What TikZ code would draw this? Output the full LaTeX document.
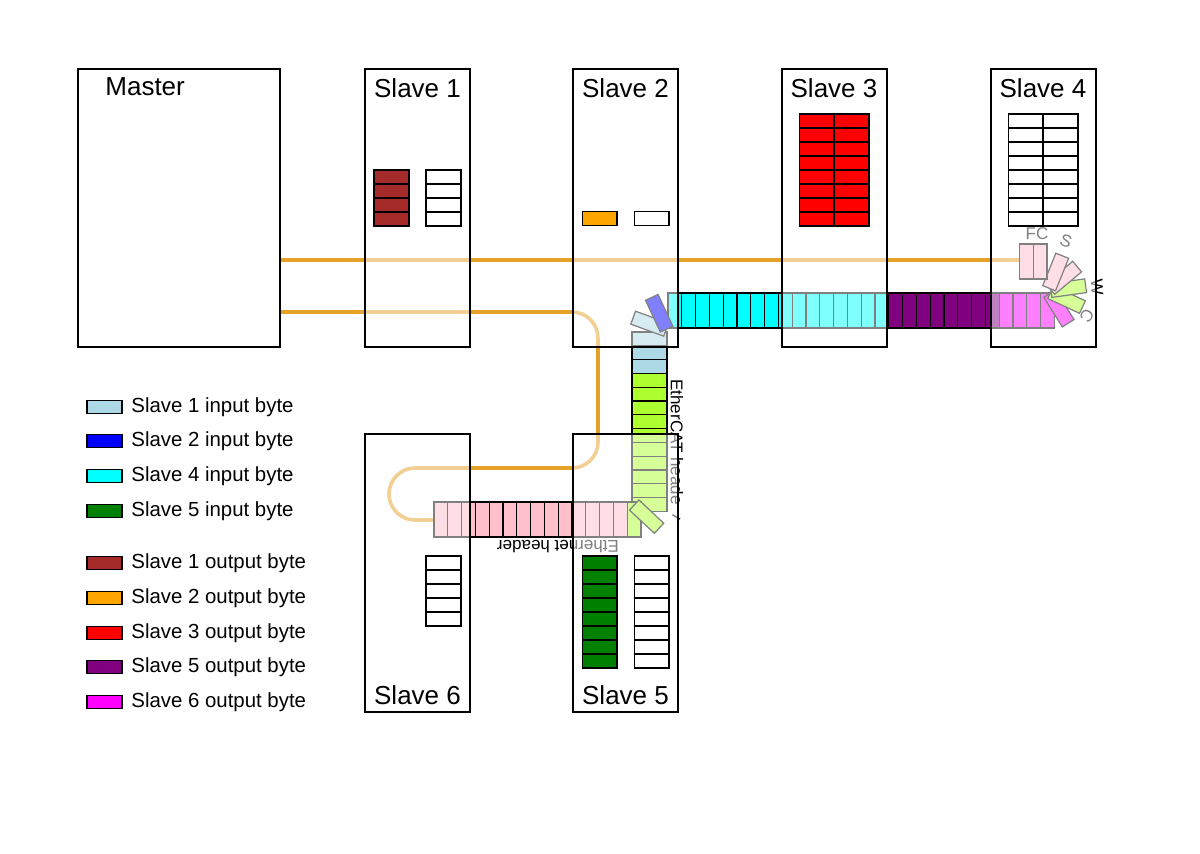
\documentclass[tikz,border=0pt]{standalone}
\usepackage{fontspec}
\setmainfont{Liberation Sans}
\usetikzlibrary{calc}
\pgfdeclarelayer{boxes}
\pgfdeclarelayer{top}
\pgfsetlayers{main,boxes,top}
\definecolor{cLB}{RGB}{173,216,230}
\definecolor{cBlue}{RGB}{0,0,255}
\definecolor{cCyan}{RGB}{0,255,255}
\definecolor{cGreen}{RGB}{0,128,0}
\definecolor{cBrown}{RGB}{165,42,42}
\definecolor{cOrange}{RGB}{255,165,0}
\definecolor{cRed}{RGB}{255,0,0}
\definecolor{cPurple}{RGB}{128,0,128}
\definecolor{cMagenta}{RGB}{255,0,255}
\definecolor{cPink}{RGB}{255,192,203}
\definecolor{cGY}{RGB}{173,255,47}
\definecolor{cableorange}{RGB}{230,162,40}
\newcommand{\rotbyte}[6]{% px, py, theta, r0, r1, colour
  \filldraw[byte, fill=#6]
    ({#1+#4*cos(#3)+6.9*sin(#3)},{#2+#4*sin(#3)-6.9*cos(#3)}) --
    ({#1+#5*cos(#3)+6.9*sin(#3)},{#2+#5*sin(#3)-6.9*cos(#3)}) --
    ({#1+#5*cos(#3)-6.9*sin(#3)},{#2+#5*sin(#3)+6.9*cos(#3)}) --
    ({#1+#4*cos(#3)-6.9*sin(#3)},{#2+#4*sin(#3)+6.9*cos(#3)}) -- cycle;}
\newcommand{\memtab}[5]{% x0, y0, ncols, nrows, fill
  \foreach \cc in {1,...,#3}{\foreach \rr in {1,...,#4}{
    \filldraw[tbl, fill=#5] ({#1+(\cc-1)*34.7},{#2+(\rr-1)*14}) rectangle ++(34.7,14);}}}
\tikzset{
  box/.style={draw=black, line width=1pt, fill=white, fill opacity=0.5, text opacity=1, inner sep=0pt},
  slavebox/.style={box, minimum width=52.5pt, minimum height=139pt},
  byte/.style={draw=black, line width=0.6pt},
  tbl/.style={draw=black, line width=0.8pt},
  cable/.style={draw=cableorange, line width=1.8pt},
  big/.style={font=\fontsize{13}{15}\selectfont, inner sep=0pt},
  small/.style={font=\fontsize{8.5}{10}\selectfont, inner sep=0pt},
  leg/.style={font=\fontsize{10.2}{12}\selectfont, inner sep=0pt},
  swatch/.style={draw=black, line width=0.8pt, minimum width=17.5pt, minimum height=6.5pt, inner sep=0pt}
}
\begin{document}
\begin{tikzpicture}[x=0.5pt,y=-0.5pt]
\useasboundingbox (0,0) rectangle (1200,853);
\fill[white] (0,0) rectangle (1200,853);
% boxes (semi-transparent white over frame and cables)
\begin{pgfonlayer}{boxes}
\node[box, minimum width=101pt, minimum height=139pt] (master) at (179,208) {};
\node[slavebox] (s1) at (417.5,208) {};
\node[slavebox] (s2) at (625.5,208) {};
\node[slavebox] (s3) at (834,208) {};
\node[slavebox] (s4) at (1043,208) {};
\node[slavebox] (s6) at (417.5,573) {};
\node[slavebox] (s5) at (625.5,573) {};
\end{pgfonlayer}
% cables
\coordinate (c1end) at (1019,260);
\coordinate (c2y) at (0,312);
\coordinate (strandL) at (434,520);
\draw[cable] (master.east |- c1end) -- (c1end);
\draw[cable, rounded corners=13pt] (master.east |- c2y) -- (598,312) -- (598,468) -- (389,468) -- (389,520) -- (strandL);
% frame: top strand
\def\bw{13.8}
\foreach \i in {0,...,15} \filldraw[byte, fill=cCyan] ({668+\i*\bw},293) rectangle ++(\bw,35);
\foreach \i in {16,...,23} \filldraw[byte, fill=cPurple] ({668+\i*\bw},293) rectangle ++(\bw,35);
\foreach \i in {24,...,27} \filldraw[byte, fill=cMagenta] ({668+\i*\bw},293) rectangle ++(\bw,35);
% vertical strand
\foreach \j in {0,...,2} \filldraw[byte, fill=cLB] (632,{332+\j*\bw}) rectangle ++(35,\bw);
\foreach \j in {3,...,12} \filldraw[byte, fill=cGY] (632,{332+\j*\bw}) rectangle ++(35,\bw);
% bottom strand
\foreach \i in {0,...,13} \filldraw[byte, fill=cPink] ({434+\i*\bw},502) rectangle ++(\bw,35);
\filldraw[byte, fill=cGY] ({434+14*\bw},502) rectangle ++(\bw,35);
% corners
\rotbyte{632}{503}{43}{3}{37}{cGY}
\rotbyte{667}{330}{200}{1}{36}{cLB}
\rotbyte{667}{330}{245}{1}{36}{cBlue}
% fan at slave 4
\rotbyte{1048}{291}{58}{3}{38}{cMagenta}
\rotbyte{1048}{291}{25}{3}{38}{cGY}
\rotbyte{1048}{291}{-8}{3}{38}{cGY}
\rotbyte{1048}{291}{-40}{3}{38}{cPink}
\rotbyte{1048}{291}{-68}{3}{38}{cPink}
\foreach \i in {0,1} \filldraw[byte, fill=cPink] ({1019.4+\i*\bw},244) rectangle ++(\bw,35);
% frame texts
\node[small, rotate=-90, anchor=west] (ecath) at (677,379) {EtherCAT heade};
\node[small, rotate=-120] (ecatr) at (676,518) {r};
\node[small, rotate=180] (ethh) at (558,547) {Ethernet header};
\node[small] (fcsa) at (1037,234) {FC};
\node[small, rotate=-21] (fcsb) at (1066,241) {S};
\node[small, rotate=-87] (wca) at (1097,287) {W};
\node[small, rotate=-123] (wcb) at (1087,316) {C};
% labels, tables, legend
\begin{pgfonlayer}{top}
\node[big, anchor=west] (mlab) at (105,87) {Master};
\node[big] (l1) at (417.5,88) {Slave 1};
\node[big] (l2) at (625.5,88) {Slave 2};
\node[big] (l3) at (834,88) {Slave 3};
\node[big] (l4) at (1043,88) {Slave 4};
\node[big] (l6) at (417.5,695) {Slave 6};
\node[big] (l5) at (625.5,695) {Slave 5};
\memtab{374}{170}{1}{4}{cBrown}
\memtab{426}{170}{1}{4}{white}
\memtab{582.5}{211.5}{1}{1}{cOrange}
\memtab{634.5}{211.5}{1}{1}{white}
\memtab{799.5}{114}{2}{8}{cRed}
\memtab{1008.5}{114}{2}{8}{white}
\memtab{426}{556}{1}{5}{white}
\memtab{582.5}{556}{1}{8}{cGreen}
\memtab{634.5}{556}{1}{8}{white}
\foreach \y/\c/\t/\n in {407/cLB/Slave 1 input byte/1, 441/cBlue/Slave 2 input byte/2, 476/cCyan/Slave 4 input byte/3, 511/cGreen/Slave 5 input byte/4, 563/cBrown/Slave 1 output byte/5, 598/cOrange/Slave 2 output byte/6, 633/cRed/Slave 3 output byte/7, 667/cPurple/Slave 5 output byte/8, 702/cMagenta/Slave 6 output byte/9}{
  \node[swatch, fill=\c] (sw\n) at (104.5,\y) {};
  \node[leg, anchor=west] (lt\n) at (131,\y) {\t};
}
\end{pgfonlayer}
\end{tikzpicture}
\end{document}
